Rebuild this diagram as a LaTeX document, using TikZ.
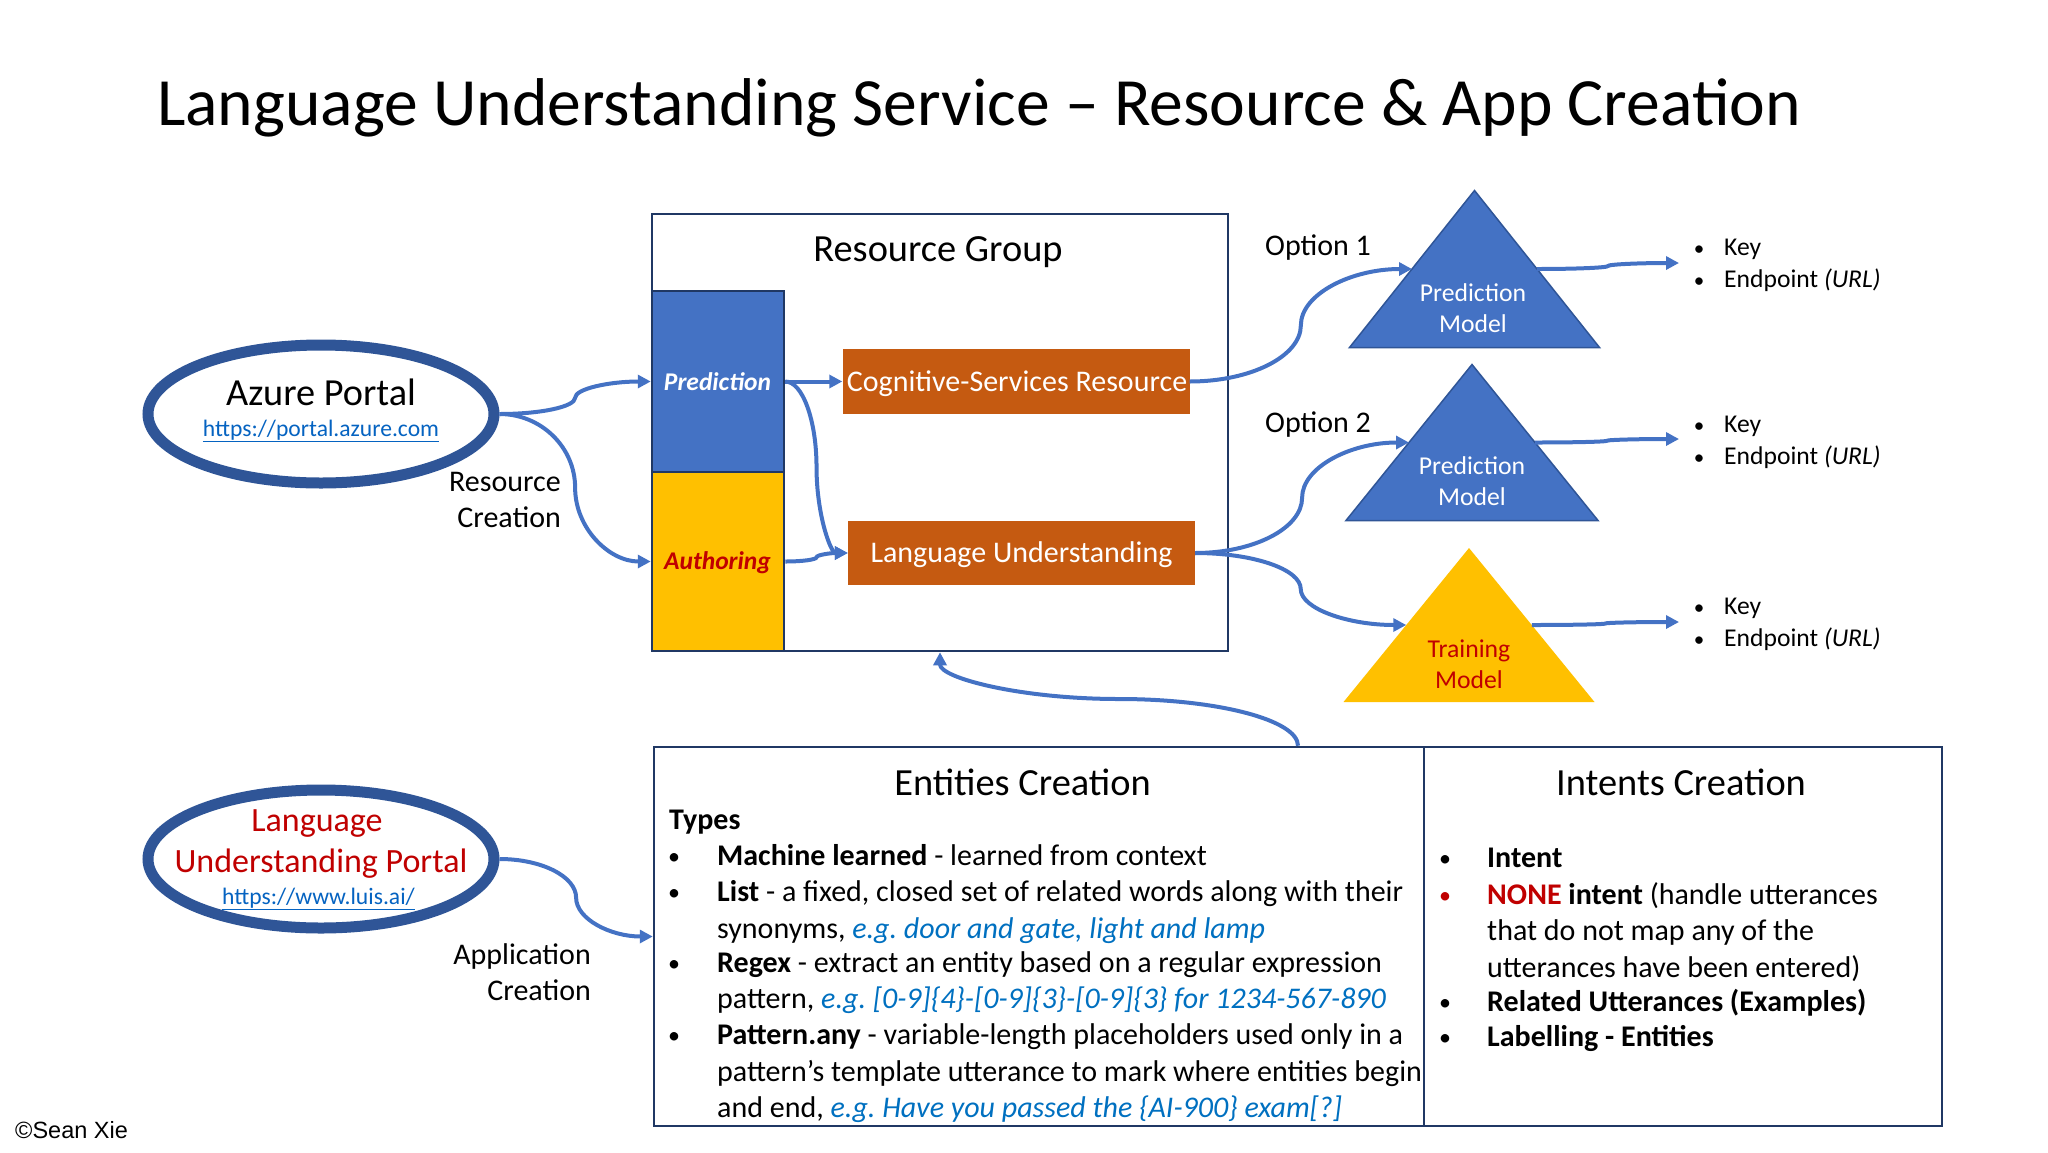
\documentclass[tikz,border=0pt]{standalone}
\usepackage{fontspec}
\setmainfont{Carlito}
\newfontfamily\arialfont{Liberation Sans}
\usetikzlibrary{arrows.meta,calc,shapes.geometric}
\definecolor{navyLine}{HTML}{203864}
\definecolor{portalLine}{HTML}{2F5597}
\definecolor{blueFill}{HTML}{4472C4}
\definecolor{amberFill}{HTML}{FFC000}
\definecolor{rustFill}{HTML}{C55A11}
\definecolor{darkRed}{HTML}{C00000}
\definecolor{linkBlue}{HTML}{0563C1}
\definecolor{noteBlue}{HTML}{0070C0}
\newcommand{\sized}[1]{\fontsize{#1}{#1}\selectfont}
\frenchspacing
%% S-shaped link, leaves and enters sideways.
\newcommand{\curveLink}[2]{%
  \coordinate (mid) at ($(#1)!0.5!(#2)$);
  \draw[linkDecorate] (#1)
    .. controls ($(#1)!0.55!(mid|-#1)$) and ($(mid)!0.55!(mid|-#1)$) .. (mid)
    .. controls ($(mid)!0.55!(mid|-#2)$) and ($(#2)!0.55!(mid|-#2)$) .. (#2);
}
\begin{document}
\begin{tikzpicture}[x=1pt,y=-1pt,%%
  linkDecorate/.style={draw=blueFill,line width=4pt,-{Triangle[length=13pt,width=13pt]}},%%
  boxDecorate/.style={draw=navyLine,line width=2.5pt,inner sep=0pt},%%
  portalDecorate/.style={ellipse,draw=portalLine,line width=11pt,fill=white,%%
    minimum width=346pt,minimum height=138pt},%%
  modelDecorate/.style={isosceles triangle,isosceles triangle stretches,%%
    shape border rotate=90,inner sep=0pt,outer sep=0pt,anchor=apex},%%
  lineDecorate/.style={anchor=base west,inner sep=0pt,font=\sized{30}},%%
  dotDecorate/.style={anchor=base,inner sep=0pt,font=\sized{24}},%%
  headDecorate/.style={inner sep=0pt,font=\sized{38.4}},%%
  sideDecorate/.style={inner sep=0pt,anchor=base east,font=\sized{30}},%%
  modelText/.style={inner sep=0pt,font=\sized{25.7},align=center},%%
  keyText/.style={anchor=base west,inner sep=0pt,font=\sized{25.6}},%%
  rustDecorate/.style={fill=rustFill,inner sep=0pt},%%
  rustText/.style={text=white,inner sep=0pt,font=\sized{30}}%%
]
\useasboundingbox (0,0) rectangle (2048,1152);
%%
%% Title and credit.
\node[inner sep=0pt,anchor=base west,font=\sized{67.6}] (title) at (157,125)
  {Language Understanding Service – Resource \& App Creation};
\node[inner sep=0pt,anchor=base west,font=\arialfont\sized{23.5}] (credit) at (15,1138)
  {©Sean Xie};
%%
%% Resource group.
\node[boxDecorate,minimum width=576pt,minimum height=437pt] (group) at (940,432.5) {};
\node[headDecorate] (groupTitle) at (938,252) {Resource Group};
\node[boxDecorate,fill=blueFill,minimum width=132pt,minimum height=181pt] (prediction)
  at (718,381.5) {};
\node[boxDecorate,fill=amberFill,minimum width=132pt,minimum height=179pt] (authoring)
  at (718,561.5) {};
\node[white,inner sep=0pt,font=\sized{25.5}\bfseries\itshape] (predictionText)
  at (717.5,382) {Prediction};
\node[darkRed,inner sep=0pt,font=\sized{25.5}\bfseries\itshape] (authoringText)
  at (717.5,563) {Authoring};
\node[rustDecorate,minimum width=347pt,minimum height=65pt] (cognitive) at (1016,381.5) {};
\node[rustText] (cognitiveText) at (1017,384) {Cognitive-Services Resource};
\node[rustDecorate,minimum width=347pt,minimum height=64pt] (language) at (1021.5,553) {};
\node[rustText] (languageText) at (1021.5,555) {Language Understanding};
%%
%% Portals.
\node[portalDecorate] (azure) at (321,414) {};
\node[inner sep=0pt,font=\sized{38.3}] (azureText) at (321,392) {Azure Portal};
\node[inner sep=0pt,text=linkBlue,font=\sized{23.6}] (azureUrl) at (321,431)
  {\underline{https://portal.azure.com}};
\node[portalDecorate] (luis) at (321,859) {};
\node[inner sep=0pt,text=darkRed,font=\sized{34}] (luisTextA) at (317,824) {Language};
\node[inner sep=0pt,text=darkRed,font=\sized{34}] (luisTextB) at (321,864) {Understanding Portal};
\node[inner sep=0pt,text=linkBlue,font=\sized{23.6}] (luisUrl) at (318.5,899)
  {\underline{https://www.luis.ai/}};
\node[sideDecorate] (resourceA) at (561,491) {Resource};
\node[sideDecorate] (resourceB) at (561,527) {Creation};
\node[sideDecorate] (applicationA) at (591,964) {Application};
\node[sideDecorate] (applicationB) at (591,1000) {Creation};
%%
%% Models.
\node[modelDecorate,fill=blueFill,draw=portalLine,line width=1.5pt,
  minimum width=250pt,minimum height=157pt] (modelA) at (1474.5,190.5) {};
\node[modelDecorate,fill=blueFill,draw=portalLine,line width=1.5pt,
  minimum width=252pt,minimum height=156pt] (modelB) at (1472,364.5) {};
\node[modelDecorate,fill=amberFill,
  minimum width=251pt,minimum height=154pt] (modelC) at (1469,548) {};
\node[modelText,text=white] (modelTextA) at (1473,308.5) {Prediction\\[5pt]Model};
\node[modelText,text=white] (modelTextB) at (1472,481.5) {Prediction\\[5pt]Model};
\node[modelText,text=darkRed] (modelTextC) at (1469,664) {Training\\[5pt]Model};
\node[sideDecorate,anchor=base west] (optionA) at (1265,255) {Option 1};
\node[sideDecorate,anchor=base west] (optionB) at (1265,432) {Option 2};
%%
%% Key and endpoint lists.
\foreach \n/\ya/\yb in {A/255/287,B/432/464,C/614/646} {
  \node[dotDecorate,font=\sized{21}] (dotKey\n) at (1699,\ya) {•};
  \node[dotDecorate,font=\sized{21}] (dotEnd\n) at (1699,\yb) {•};
  \node[keyText] (key\n) at (1724,\ya) {Key};
  \node[keyText] (end\n) at (1724,\yb) {Endpoint \textit{(URL)}};
}
\coordinate (outA) at (1679,263);
\coordinate (outB) at (1679,439);
\coordinate (outC) at (1679,622);
%%
%% Creation tables.
\node[boxDecorate,minimum width=1288pt,minimum height=379pt] (tables) at (1298,936.5) {};
\node[boxDecorate,minimum width=518pt,minimum height=379pt] (intents) at (1683,936.5) {};
\node[headDecorate] (entitiesTitle) at (1022.5,782) {Entities Creation};
\node[headDecorate] (intentsTitle) at (1681,782) {Intents Creation};
\node[lineDecorate,font=\sized{30}\bfseries] (typesText) at (669,829) {Types};
%%
%% Entities lines.
\foreach \n/\yy/\txt in {%%
  a/865/{\textbf{Machine learned} - learned from context},%%
  b/901/{\textbf{List} - a fixed, closed set of related words along with their},%%
  c/938/{synonyms, \textcolor{noteBlue}{\textit{e.g. door and gate, light and lamp}}},%%
  d/972/{\textbf{Regex} - extract an entity based on a regular expression},%%
  e/1008/{pattern, \textcolor{noteBlue}{\textit{e.g. [0-9]\{4\}-[0-9]\{3\}-[0-9]\{3\} for 1234-567-890}}},%%
  f/1044/{\textbf{Pattern.any} - variable-length placeholders used only in a},%%
  g/1081/{pattern’s template utterance to mark where entities begin},%%
  h/1117/{and end, \textcolor{noteBlue}{\textit{e.g. Have you passed the \{AI-900\} exam[?]}}}%%
} {
  \node[lineDecorate] (entity\n) at (717,\yy) {\txt};
}
\foreach \n/\yy in {a/864,b/900,d/971,f/1043} {
  \node[dotDecorate] (entityDot\n) at (674,\yy) {•};
}
%%
%% Intents lines.
\foreach \n/\yy/\txt in {%%
  a/867/{\textbf{Intent}},%%
  b/904/{\textcolor{darkRed}{\textbf{NONE}} \textbf{intent} (handle utterances},%%
  c/940/{that do not map any of the},%%
  d/977/{utterances have been entered)},%%
  e/1011/{\textbf{Related Utterances (Examples)}},%%
  f/1046/{\textbf{Labelling - Entities}}%%
} {
  \node[lineDecorate] (intent\n) at (1487,\yy) {\txt};
}
\foreach \n/\yy in {a/866,e/1010,f/1045} {
  \node[dotDecorate] (intentDot\n) at (1445,\yy) {•};
}
\node[dotDecorate,text=darkRed] (intentDotb) at (1445,903) {•};
%%
%% Links.
\curveLink{azure.east}{prediction.west}
\curveLink{azure.east}{authoring.west}
\curveLink{luis.east}{tables.west}
\draw[linkDecorate] (prediction.east) -- (cognitive.west);
\curveLink{prediction.east}{language.west}
\curveLink{authoring.east}{language.west}
\curveLink{cognitive.east}{modelA.left side}
\curveLink{language.east}{modelB.left side}
\curveLink{language.east}{modelC.left side}
\curveLink{modelA.right side}{outA}
\curveLink{modelB.right side}{outB}
\curveLink{modelC.right side}{outC}
%%
%% Link back to the group, leaves and enters upright.
\coordinate (backMid) at ($(tables.north)!0.5!(group.south)$);
\draw[linkDecorate] (tables.north)
  .. controls ($(tables.north)!0.55!(backMid-|tables.north)$)
  and ($(backMid)!0.55!(backMid-|tables.north)$) .. (backMid)
  .. controls ($(backMid)!0.55!(backMid-|group.south)$)
  and ($(group.south)!0.55!(backMid-|group.south)$) .. (group.south);
\end{tikzpicture}
\end{document}
